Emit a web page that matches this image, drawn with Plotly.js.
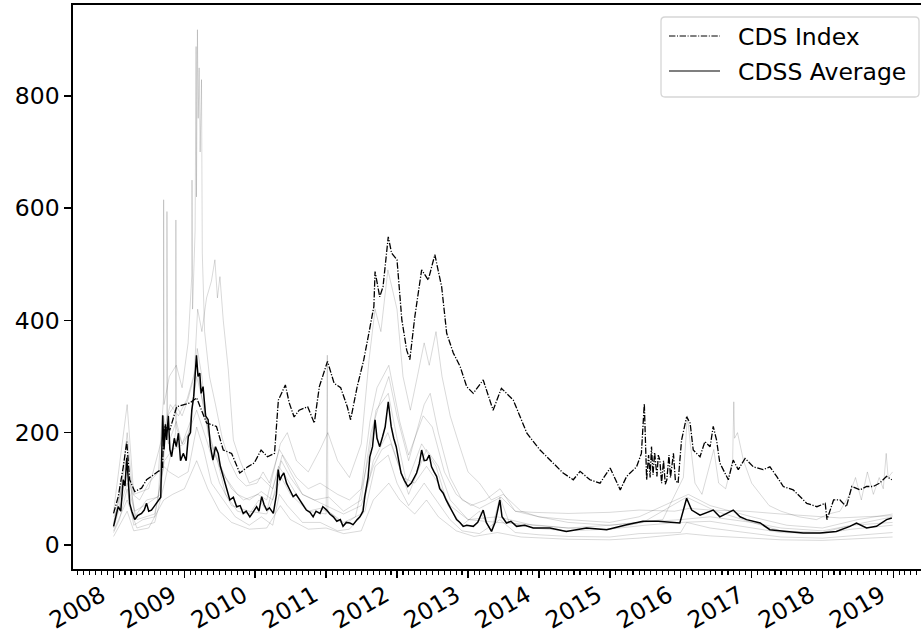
<!DOCTYPE html>
<html><head><meta charset="utf-8">
<script src="https://cdn.plot.ly/plotly-3.0.1.min.js"></script>
<style>html,body{margin:0;padding:0;overflow:hidden;background:#fff}#chart{width:932px;height:640px}</style>
</head><body><div id="chart"></div>
<script>
// ---------- data ----------
const indexDates = ['2008-01-02','2008-01-26','2008-02-21','2008-03-10','2008-03-25','2008-04-20','2008-05-25','2008-06-20','2008-07-15','2008-08-19','2008-09-10','2008-09-16','2008-09-23','2008-10-18','2008-11-22','2008-12-26','2009-01-30','2009-03-05','2009-04-05','2009-04-25','2009-06-15','2009-07-20','2009-09-01','2009-10-13','2009-11-23','2009-12-27','2010-01-31','2010-03-05','2010-04-10','2010-04-30','2010-06-05','2010-06-25','2010-07-20','2010-08-15','2010-09-28','2010-11-01','2010-11-27','2011-01-08','2011-02-11','2011-03-17','2011-04-20','2011-05-07','2011-06-10','2011-07-14','2011-08-09','2011-09-04','2011-09-10','2011-10-04','2011-10-21','2011-11-17','2011-12-04','2012-01-01','2012-01-26','2012-02-20','2012-03-07','2012-04-02','2012-05-07','2012-06-10','2012-07-14','2012-08-18','2012-09-13','2012-10-17','2012-11-21','2012-12-25','2013-01-28','2013-03-20','2013-05-10','2013-06-22','2013-08-22','2013-10-31','2014-01-07','2014-03-16','2014-05-06','2014-06-27','2014-08-01','2014-09-21','2014-11-12','2015-01-03','2015-02-24','2015-03-29','2015-05-19','2015-06-13','2015-06-28','2015-07-10','2015-07-20','2015-07-28','2015-08-04','2015-08-12','2015-08-20','2015-09-01','2015-09-08','2015-09-16','2015-09-25','2015-10-05','2015-10-14','2015-10-22','2015-11-02','2015-11-10','2015-11-25','2015-12-05','2015-12-19','2015-12-28','2016-01-06','2016-02-01','2016-02-19','2016-03-06','2016-04-10','2016-05-05','2016-06-01','2016-06-17','2016-07-04','2016-07-21','2016-09-03','2016-09-28','2016-10-24','2016-11-28','2017-01-10','2017-03-01','2017-04-05','2017-05-10','2017-06-13','2017-08-03','2017-09-07','2017-10-12','2017-12-03','2018-01-15','2018-01-24','2018-02-27','2018-04-01','2018-05-04','2018-06-01','2018-07-13','2018-08-16','2018-09-19','2018-10-22','2018-11-27','2018-12-24'];
const indexVals = [56,86,139,184,116,95,101,116,122,131,135,199,211,205,246,249,253,262,235,217,211,169,163,128,139,146,169,157,163,258,285,253,228,240,246,217,282,327,288,280,246,223,282,330,377,425,487,442,460,549,520,508,401,347,330,407,490,472,517,460,377,342,318,282,270,294,240,279,258,199,169,146,128,116,131,116,110,137,98,122,139,163,252,116,160,120,175,125,165,122,160,151,110,150,108,116,160,120,163,115,110,150,187,228,217,169,157,184,175,211,187,146,116,151,134,154,139,134,139,122,104,98,86,74,68,74,45,80,80,68,104,98,104,104,110,122,116];

const avgDates = ['2008-01-02','2008-01-15','2008-01-26','2008-02-08','2008-02-21','2008-03-01','2008-03-10','2008-03-17','2008-03-25','2008-04-05','2008-04-20','2008-05-05','2008-05-25','2008-06-08','2008-06-20','2008-07-01','2008-07-15','2008-08-01','2008-08-19','2008-09-01','2008-09-11','2008-09-18','2008-09-25','2008-10-01','2008-10-10','2008-10-18','2008-10-27','2008-11-10','2008-11-20','2008-12-01','2008-12-12','2008-12-26','2009-01-10','2009-01-21','2009-02-01','2009-02-08','2009-02-18','2009-02-25','2009-03-04','2009-03-12','2009-03-21','2009-03-28','2009-04-07','2009-04-20','2009-05-03','2009-05-15','2009-05-28','2009-06-10','2009-06-24','2009-07-05','2009-07-19','2009-08-05','2009-08-23','2009-09-10','2009-09-27','2009-10-15','2009-10-31','2009-11-15','2009-12-04','2009-12-20','2010-01-08','2010-01-20','2010-02-03','2010-02-15','2010-03-01','2010-03-15','2010-04-04','2010-04-20','2010-04-29','2010-05-08','2010-05-16','2010-05-28','2010-06-11','2010-06-25','2010-07-15','2010-07-30','2010-08-18','2010-09-05','2010-09-21','2010-10-10','2010-10-26','2010-11-10','2010-11-30','2010-12-15','2011-01-04','2011-01-20','2011-02-07','2011-02-25','2011-03-15','2011-03-29','2011-04-15','2011-05-03','2011-05-20','2011-06-10','2011-06-24','2011-07-10','2011-07-19','2011-08-05','2011-08-14','2011-08-28','2011-09-10','2011-09-20','2011-10-04','2011-10-19','2011-11-01','2011-11-17','2011-11-25','2011-12-02','2011-12-15','2011-12-28','2012-01-10','2012-01-22','2012-02-08','2012-02-26','2012-03-15','2012-04-11','2012-04-25','2012-05-07','2012-05-20','2012-06-02','2012-06-15','2012-06-27','2012-07-10','2012-07-23','2012-08-08','2012-08-26','2012-09-10','2012-09-30','2012-10-15','2012-11-03','2012-11-20','2012-12-07','2012-12-25','2013-01-28','2013-02-20','2013-03-20','2013-04-05','2013-05-02','2013-05-20','2013-06-14','2013-06-25','2013-07-18','2013-08-10','2013-09-08','2013-10-20','2013-12-03','2014-02-27','2014-05-22','2014-09-03','2014-12-16','2015-03-29','2015-06-21','2015-09-08','2015-12-28','2016-02-01','2016-02-27','2016-04-10','2016-06-17','2016-07-21','2016-09-28','2016-11-02','2016-12-06','2017-02-14','2017-04-05','2017-06-30','2017-09-24','2017-12-19','2018-03-13','2018-05-22','2018-06-25','2018-08-16','2018-10-06','2018-11-27','2018-12-24'];
const avgVals = [33,50,68,60,116,105,155,120,74,60,45,52,56,62,74,60,62,70,80,85,231,170,215,187,230,170,157,190,175,199,150,163,150,193,200,240,265,300,338,300,306,270,282,230,223,175,151,175,163,140,122,100,80,85,68,70,56,60,50,58,68,60,86,72,62,66,56,90,134,115,122,128,110,100,86,90,80,72,62,58,50,60,56,68,62,55,50,42,45,33,40,39,36,45,50,60,86,120,157,175,223,190,175,193,210,255,225,211,190,175,150,128,115,104,110,128,145,169,150,151,160,139,130,122,100,92,80,68,58,45,40,33,35,33,40,62,40,24,40,80,50,39,42,33,35,30,30,24,30,27,36,42,42,39,83,62,53,62,50,62,50,45,39,27,24,21,21,24,33,39,30,33,45,48];

const g1Dates = ['2008-01-02','2008-02-01','2008-03-12','2008-04-10','2008-05-15','2008-07-01','2008-08-20','2008-09-15','2008-09-16','2008-09-18','2008-10-15','2008-11-20','2008-12-20','2009-01-20','2009-02-08','2009-02-09','2009-02-12','2009-02-25','2009-03-02','2009-03-04','2009-03-09','2009-03-13','2009-03-18','2009-03-23','2009-03-30','2009-04-03','2009-04-15','2009-05-10','2009-06-10','2009-07-15','2009-08-20','2009-10-01','2009-11-15','2010-01-10','2010-02-10','2010-03-15','2010-05-05','2010-06-10','2010-08-01','2010-10-01','2010-12-01','2011-03-01','2011-05-01','2011-07-01','2011-08-15','2011-09-20','2011-11-20','2012-01-15','2012-03-01','2012-05-15','2012-07-01','2012-09-01','2012-11-01','2013-01-15','2013-04-01','2013-06-15','2013-09-01','2014-01-01','2014-06-01','2015-01-01','2015-06-01','2016-02-10','2016-06-01','2017-01-01','2017-07-01','2018-01-01','2018-07-01','2018-12-28'];
const g1Vals = [50,70,200,90,80,110,130,260,615,250,300,320,280,360,480,650,420,560,888,620,918,760,850,700,829,520,380,300,250,190,150,120,105,110,130,110,170,150,120,100,110,90,80,100,220,280,320,220,160,230,210,130,90,70,80,100,60,50,45,40,50,90,70,50,35,30,45,55];

const g2Dates = ['2008-01-02','2008-03-12','2008-04-20','2008-07-01','2008-09-01','2008-10-02','2008-10-03','2008-10-06','2008-11-15','2008-12-20','2009-01-20','2009-02-20','2009-03-10','2009-04-01','2009-04-25','2009-05-20','2009-06-07','2009-06-20','2009-07-03','2009-07-20','2009-08-15','2009-09-10','2009-10-15','2009-12-01','2010-02-01','2010-04-01','2010-05-20','2010-07-01','2010-09-01','2010-11-01','2011-01-01','2011-04-01','2011-07-01','2011-09-01','2011-10-15','2011-12-01','2012-02-01','2012-04-01','2012-06-01','2012-08-01','2012-10-01','2013-01-01','2013-06-01','2013-12-01','2014-06-01','2015-01-01','2015-07-01','2016-01-01','2016-06-01','2017-01-01','2017-06-01','2018-01-01','2018-06-01','2018-12-28'];
const g2Vals = [40,140,60,75,90,220,594,230,250,230,260,300,420,380,440,470,508,440,478,400,312,187,150,110,120,100,160,130,90,80,70,55,70,140,170,180,120,110,140,110,70,45,50,35,30,28,35,40,42,30,22,20,28,35];

const g3Dates = ['2008-01-02','2008-03-12','2008-05-01','2008-08-01','2008-09-20','2008-11-17','2008-11-18','2008-11-20','2008-12-20','2009-02-01','2009-03-05','2009-04-10','2009-05-15','2009-07-01','2009-09-01','2009-11-01','2010-01-15','2010-03-01','2010-05-10','2010-06-15','2010-08-01','2010-10-01','2010-12-01','2011-01-10','2011-03-01','2011-05-01','2011-07-01','2011-08-10','2011-09-10','2011-10-10','2011-11-15','2011-12-05','2012-01-01','2012-02-01','2012-03-10','2012-04-15','2012-05-20','2012-06-15','2012-07-20','2012-08-20','2012-10-01','2012-11-15','2013-01-01','2013-03-01','2013-05-01','2013-07-01','2013-10-01','2014-01-01','2014-06-01','2015-01-01','2015-06-01','2016-01-01','2016-06-01','2017-01-01','2017-06-01','2018-01-01','2018-06-01','2018-12-28'];
const g3Vals = [25,80,30,40,110,200,579,210,180,220,300,250,180,140,100,80,90,80,180,200,150,130,170,200,150,120,180,330,420,380,490,460,420,300,240,300,360,320,380,300,230,180,130,110,80,90,60,50,40,35,40,45,50,40,30,25,35,40];

const g4Dates = ['2008-01-02','2008-03-12','2008-05-01','2008-08-01','2008-09-20','2008-11-01','2009-01-01','2009-03-05','2009-05-01','2009-07-01','2009-09-01','2009-12-01','2010-03-01','2010-05-15','2010-07-01','2010-10-01','2011-01-01','2011-01-07','2011-01-10','2011-04-01','2011-07-01','2011-09-01','2011-11-15','2012-01-01','2012-03-01','2012-06-01','2012-08-01','2012-10-01','2013-01-01','2013-06-01','2014-01-01','2014-06-01','2015-01-01','2015-06-01','2015-10-01','2016-01-15','2016-02-05','2016-02-20','2016-03-15','2016-04-20','2016-05-20','2016-06-20','2016-07-15','2016-08-20','2016-09-25','2016-10-01','2016-10-05','2016-10-20','2016-11-20','2017-01-01','2017-02-15','2017-04-01','2017-06-01','2017-09-01','2017-12-01','2018-02-01','2018-04-01','2018-05-20','2018-06-20','2018-07-20','2018-08-20','2018-09-20','2018-10-20','2018-11-10','2018-11-25','2018-12-05','2018-12-28'];
const g4Vals = [30,110,45,55,150,170,180,240,180,110,70,60,55,120,90,60,55,338,60,40,55,150,200,150,90,170,140,80,45,40,35,30,35,40,45,120,230,180,110,90,130,170,110,100,150,255,190,200,150,110,90,70,60,50,45,55,60,90,120,80,130,90,120,100,163,120,130];

const g5Dates = ['2008-01-02','2008-03-12','2008-04-15','2008-07-01','2008-09-15','2008-10-20','2008-12-01','2009-01-15','2009-03-05','2009-04-15','2009-06-01','2009-08-01','2009-10-01','2009-12-01','2010-02-01','2010-04-01','2010-05-15','2010-07-01','2010-09-01','2010-11-01','2011-01-15','2011-04-01','2011-07-01','2011-08-20','2011-10-01','2011-11-20','2012-01-01','2012-03-01','2012-05-20','2012-06-20','2012-08-01','2012-10-01','2012-12-01','2013-03-01','2013-06-20','2013-09-01','2013-12-01','2014-06-01','2015-01-01','2015-06-01','2015-12-01','2016-02-15','2016-06-01','2016-12-01','2017-06-01','2017-12-01','2018-04-01','2018-08-01','2018-12-28'];
const g5Vals = [60,250,90,100,200,250,230,260,320,230,170,120,90,80,95,80,150,120,90,80,85,60,80,200,250,300,230,150,250,270,200,120,80,65,85,60,58,56,58,62,60,65,62,60,55,50,48,50,52];

const g6Dates = ['2008-01-02','2008-02-01','2008-03-12','2008-04-15','2008-06-01','2008-08-01','2008-09-16','2008-10-15','2008-12-01','2009-01-20','2009-03-05','2009-04-10','2009-05-20','2009-07-20','2009-09-20','2009-12-01','2010-02-01','2010-04-01','2010-05-05','2010-06-15','2010-09-01','2010-12-01','2011-03-01','2011-05-01','2011-07-20','2011-09-10','2011-11-17','2012-01-01','2012-03-01','2012-05-20','2012-07-20','2012-09-30','2012-12-01','2013-03-01','2013-06-14','2013-09-01','2014-01-01','2014-06-01','2015-01-01','2015-06-01','2016-01-01','2016-02-01','2016-06-01','2017-01-01','2017-06-01','2018-01-01','2018-06-01','2018-12-28'];
const g6Vals = [22,45,100,35,45,50,140,130,120,130,210,170,110,80,50,35,50,35,90,70,40,40,25,28,60,140,160,110,70,110,80,45,25,20,45,22,18,15,14,20,22,40,30,20,14,12,16,22];

const g7Dates = ['2008-01-02','2008-03-12','2008-04-15','2008-07-01','2008-09-16','2008-11-01','2009-01-01','2009-03-05','2009-05-01','2009-07-01','2009-09-01','2009-12-01','2010-03-01','2010-05-10','2010-07-01','2010-10-01','2011-01-01','2011-04-01','2011-07-01','2011-09-01','2011-11-20','2012-01-15','2012-04-01','2012-06-01','2012-08-01','2012-11-01','2013-02-01','2013-06-01','2013-10-01','2014-06-01','2015-01-01','2015-06-01','2016-02-01','2016-06-01','2017-01-01','2017-06-01','2018-01-01','2018-06-01','2018-12-28'];
const g7Vals = [15,60,25,30,80,90,100,150,100,60,40,28,30,70,45,28,30,20,25,80,110,80,55,80,50,25,15,22,14,10,9,12,20,16,12,9,8,10,14];

const g8Dates = ['2008-01-02','2008-03-12','2008-04-20','2008-06-20','2008-08-19','2008-09-16','2008-10-10','2008-11-20','2008-12-20','2009-01-25','2009-02-15','2009-03-08','2009-04-01','2009-05-01','2009-06-20','2009-08-01','2009-10-01','2009-12-01','2010-01-20','2010-03-01','2010-05-01','2010-06-10','2010-08-01','2010-10-01','2010-12-01','2011-02-01','2011-04-01','2011-06-01','2011-08-10','2011-09-15','2011-11-17','2012-01-01','2012-02-20','2012-05-07','2012-07-20','2012-09-20','2012-12-01','2013-03-01','2013-05-01','2013-06-14','2013-08-01','2013-12-01','2014-06-01','2015-01-01','2015-06-21','2016-02-01','2016-07-01','2017-01-01','2017-06-01','2018-01-01','2018-06-01','2018-12-28'];
const g8Vals = [35,160,50,80,85,230,180,220,180,200,260,350,300,200,150,90,60,55,80,60,140,120,90,60,65,55,35,50,160,240,270,190,110,180,140,70,35,60,25,85,40,30,25,28,40,85,60,40,25,22,35,50];

const yTicks = [0, 200, 400, 600, 800];
const legendLabels = ['CDS Index', 'CDSS Average'];

// ---------- geometry ----------
const W = 932, H = 640, ML = 73, MR = 0, MT = 5, MB = 71;
const PW = W - ML - MR, PH = H - MT - MB;
const px = x => (x - ML) / PW;
const py = y => (H - MB - y) / PH;
const FONT = 'DejaVu Sans';
const FS = 23.5;

const grayStyle = {color: 'rgba(0,0,0,0.19)', width: 0.8};
const grays = [[g1Dates,g1Vals],[g2Dates,g2Vals],[g3Dates,g3Vals],[g4Dates,g4Vals],[g5Dates,g5Vals],[g6Dates,g6Vals],[g7Dates,g7Vals],[g8Dates,g8Vals]];
const traces = grays.map((g, i) => ({
  x: g[0], y: g[1], type: 'scatter', mode: 'lines', line: grayStyle,
  showlegend: false, hoverinfo: 'skip', name: 'CDSS ' + (i + 1)
}));
traces.push({x: avgDates, y: avgVals, type: 'scatter', mode: 'lines', name: legendLabels[1],
  line: {color: 'black', width: 1.5}, showlegend: false});
traces.push({x: indexDates, y: indexVals, type: 'scatter', mode: 'lines', name: legendLabels[0],
  line: {color: 'black', width: 1.3, dash: '6.4px,1.6px,1.2px,1.6px'}, showlegend: false});

// legend box (rounded)
const bx0 = 661, bx1 = 919, by0 = 17, by1 = 97, r = 4;
const rx = r / PW, ry = r / PH;
const X0 = px(bx0), X1 = px(bx1), Y0 = py(by0), Y1 = py(by1);
const boxPath = `M ${X0+rx},${Y0} L ${X1-rx},${Y0} Q ${X1},${Y0} ${X1},${Y0-ry} L ${X1},${Y1+ry} Q ${X1},${Y1} ${X1-rx},${Y1} L ${X0+rx},${Y1} Q ${X0},${Y1} ${X0},${Y1+ry} L ${X0},${Y0-ry} Q ${X0},${Y0} ${X0+rx},${Y0} Z`;

const shapes = [
  {type: 'path', xref: 'paper', yref: 'paper', path: boxPath, fillcolor: 'rgba(255,255,255,0.8)', line: {color: '#d6d6d6', width: 1.3}},
  {type: 'line', xref: 'paper', yref: 'paper', x0: px(669), x1: px(720), y0: py(36), y1: py(36), line: {color: 'black', width: 1, dash: '6.4px,1.6px,1px,1.6px'}},
  {type: 'line', xref: 'paper', yref: 'paper', x0: px(669), x1: px(720), y0: py(71), y1: py(71), line: {color: 'black', width: 1.1}}
];
const annotations = [
  {xref: 'paper', yref: 'paper', x: px(736), y: py(37), xanchor: 'left', yanchor: 'middle', text: legendLabels[0], showarrow: false, font: {family: FONT, size: FS, color: 'black'}},
  {xref: 'paper', yref: 'paper', x: px(736), y: py(72), xanchor: 'left', yanchor: 'middle', text: legendLabels[1], showarrow: false, font: {family: FONT, size: FS, color: 'black'}}
];

const layout = {
  width: W, height: H,
  margin: {l: ML, r: MR, t: MT, b: MB, pad: 0},
  paper_bgcolor: 'white', plot_bgcolor: 'white',
  showlegend: false,
  font: {family: FONT, size: FS, color: 'black'},
  xaxis: {
    type: 'date', range: ['2007-06-07', '2019-07-19'],
    tick0: '2008-01-01', dtick: 'M12', tickformat: '%Y', tickangle: -30,
    ticklabelshift: -12, ticklabelstandoff: -5,
    ticks: 'outside', ticklen: 7, tickwidth: 1.6, tickcolor: 'black',
    showline: true, linecolor: 'black', linewidth: 1.6, mirror: true,
    showgrid: false, zeroline: false,
    tickfont: {family: FONT, size: FS, color: 'black'},
    minor: {tick0: '2008-01-01', dtick: 'M1', ticks: 'outside', ticklen: 4, tickwidth: 1.1, tickcolor: 'black', showgrid: false}
  },
  yaxis: {
    range: [-43, 962], tickvals: yTicks, ticktext: yTicks.map(String),
    ticks: 'outside', ticklen: 7, tickwidth: 1.6, tickcolor: 'black',
    showline: true, linecolor: 'black', linewidth: 1.6, mirror: true,
    showgrid: false, zeroline: false,
    tickfont: {family: FONT, size: FS, color: 'black'}
  },
  shapes: shapes,
  annotations: annotations
};

Plotly.newPlot('chart', traces, layout, {displayModeBar: false, staticPlot: true});
</script>
</body></html>
